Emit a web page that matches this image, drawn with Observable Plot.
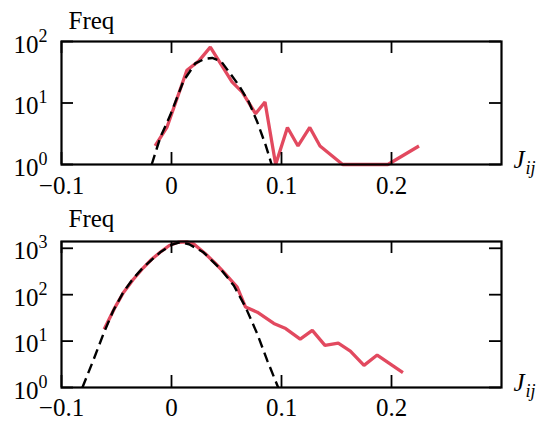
<!DOCTYPE html>
<html>
<head>
<meta charset="utf-8">
<script src="https://cdn.jsdelivr.net/npm/d3@7"></script>
<script src="https://cdn.jsdelivr.net/npm/@observablehq/plot@0.6"></script>
<style>
  html, body { margin: 0; padding: 0; background: #fff; }
  svg { display: block; }
  svg, svg text { font-family: "Liberation Serif", "Times New Roman", serif !important; }
</style>
</head>
<body>
<div id="chart"></div>
<script>
// ---- data ----
const xTicks = [-0.1, 0, 0.1, 0.2];
const topYTicks = [1, 10, 100];
const botYTicks = [1, 10, 100, 1000];
const yLabel = "Freq";
const xLabel = "J^ij";

// top panel: empirical histogram (red) and Gaussian fit (dashed)
const topRedX = [-0.0149, -0.0042, 0.014, 0.0247, 0.0353, 0.055, 0.0643, 0.0764, 0.085, 0.0947, 0.1054, 0.115, 0.1257, 0.135, 0.1556, 0.1967, 0.225];
const topRedY = [2, 4, 34, 48, 81, 22, 15, 6.7, 10.4, 1, 4, 2, 4, 2, 1, 1, 2];
const topFitX = [-0.018, -0.01, -0.0012, 0.011, 0.0216, 0.03, 0.037, 0.045, 0.0612, 0.0703, 0.078, 0.0856, 0.091];
const topFitY = [1, 2.8, 6.3, 23, 44, 52, 54, 48, 19.4, 10.4, 4.9, 2.06, 1];

// bottom panel
const botRedX = [-0.0612, -0.052, -0.0438, -0.035, -0.0256, -0.018, -0.0103, -0.002, 0.006, 0.014, 0.020, 0.0308, 0.040, 0.0475, 0.0597, 0.0673, 0.078, 0.093, 0.1038, 0.117, 0.128, 0.1395, 0.1516, 0.1626, 0.175, 0.187, 0.2104];
const botRedY = [18, 50, 110, 210, 380, 580, 820, 1150, 1350, 1370, 1250, 760, 470, 305, 145, 54, 42, 24, 18.6, 11, 17, 8.1, 9, 6.1, 3, 5, 2.1];
const botFitX = [-0.081, -0.0712, -0.062, -0.053, -0.0438, -0.035, -0.0256, -0.0103, 0.0004, 0.008, 0.016, 0.029, 0.0445, 0.0566, 0.0673, 0.078, 0.0871, 0.097];
const botFitY = [1, 3.8, 14, 45, 113, 220, 390, 820, 1200, 1350, 1220, 820, 360, 158, 54, 14.3, 3.8, 1];

const RED = "#e2495f";
const FONT = "Liberation Serif";
const FS = 25;
const svgNS = "http://www.w3.org/2000/svg";

function toRows(xs, ys) { return xs.map((x, i) => ({x, y: ys[i]})); }

function splitScript(t, dy, dx) {
  const parts = t.textContent.split("^");
  if (parts.length < 2) return;
  t.textContent = parts[0];
  const ts = document.createElementNS(svgNS, "tspan");
  ts.setAttribute("dy", dy);
  if (dx) ts.setAttribute("dx", dx);
  ts.setAttribute("font-size", "18");
  ts.textContent = parts[1];
  t.appendChild(ts);
}

function panel({redX, redY, fitX, fitY, yDomain, yTicks, height, mt, mb, labelDy, pad}) {
  const width = 552, ml = 61, mr = 51;
  const H = height - mt - mb, W = width - ml - mr, T = 12;
  const svg = Plot.plot({
    width, height,
    marginLeft: ml, marginRight: mr, marginTop: mt, marginBottom: mb,
    style: {fontFamily: FONT, fontSize: FS + "px", color: "#000", background: "#fff"},
    x: {domain: [-0.1, 0.3], axis: null},
    y: {type: "log", domain: yDomain, axis: null},
    marks: [
      Plot.line(toRows(redX, redY), {x: "x", y: "y", stroke: RED, strokeWidth: 3.3, strokeLinejoin: "miter", strokeLinecap: "butt"}),
      Plot.line(toRows(fitX, fitY), {x: "x", y: "y", stroke: "#000", strokeWidth: 2.4, strokeDasharray: "10,5.5", strokeLinecap: "butt"}),
      Plot.tickX(xTicks, {x: d => d, insetTop: H - T, stroke: "#000", strokeWidth: 1.8}),
      Plot.tickX(xTicks, {x: d => d, insetBottom: H - T, stroke: "#000", strokeWidth: 1.8}),
      Plot.tickY(yTicks, {y: d => d, insetRight: W - T, stroke: "#000", strokeWidth: 1.8}),
      Plot.tickY(yTicks, {y: d => d, insetLeft: W - T, stroke: "#000", strokeWidth: 1.8}),
      Plot.frame({stroke: "#000", strokeWidth: 2.2}),
      Plot.axisX({ticks: xTicks, tickSize: 0, tickPadding: pad, fontSize: FS, label: null,
        tickFormat: d => d === 0 ? "0" : (d < 0 ? "\u2212" + Math.abs(d) : String(d))}),
      Plot.axisY({ticks: yTicks, tickSize: 0, tickPadding: 14, fontSize: FS, dy: 3, label: null,
        tickFormat: d => "10^" + Math.round(Math.log10(d))}),
      Plot.text([yLabel], {frameAnchor: "top-left", dx: 7, dy: labelDy, textAnchor: "start", lineAnchor: "bottom", fontSize: FS}),
      Plot.text([xLabel], {frameAnchor: "bottom-right", dx: 12, dy: 3, textAnchor: "start", lineAnchor: "bottom", fontSize: FS, fontStyle: "italic"})
    ]
  });
  svg.querySelectorAll("text").forEach(t => {
    const s = t.textContent;
    if (s.startsWith("10^")) splitScript(t, "-11", null);
    else if (s === xLabel) splitScript(t, "6", "1");
  });
  return svg;
}

const root = document.getElementById("chart");
root.appendChild(panel({redX: topRedX, redY: topRedY, fitX: topFitX, fitY: topFitY,
  yDomain: [1, 100], yTicks: topYTicks, height: 200, mt: 41, mb: 36, labelDy: -13, pad: 12}));
root.appendChild(panel({redX: botRedX, redY: botRedY, fitX: botFitX, fitY: botFitY,
  yDomain: [1, 1400], yTicks: botYTicks, height: 222, mt: 41, mb: 35, labelDy: -15, pad: 11}));
</script>
</body>
</html>
